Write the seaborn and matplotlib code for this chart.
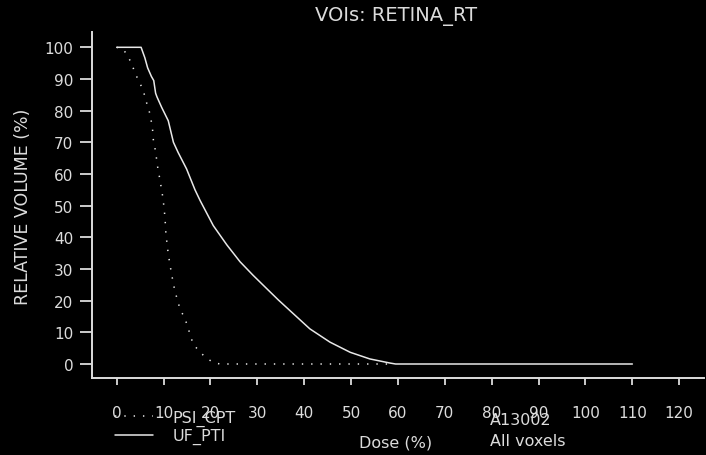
import numpy as np
import pandas as pd
import matplotlib
matplotlib.use("Agg")
import matplotlib.pyplot as plt
import seaborn as sns

# Dose-volume histogram for RETINA_RT, two plans
uf_dose = [0, 5.2, 6.0, 6.6, 7.4, 7.9, 8.3, 8.6, 9.6, 11.0, 12.1, 13.1, 14.9, 16.7,
           17.8, 20.6, 23.5, 26.3, 29.1, 32.0, 34.5, 37.0, 41.2, 45.5, 49.8, 54.0,
           58.3, 59.5, 110.0]
uf_volume = [100, 100, 96.7, 93.5, 90.8, 89.5, 85.5, 84.3, 81.0, 76.8, 70.0, 66.8, 61.6, 55.0,
             51.6, 43.7, 37.6, 32.3, 28.0, 23.8, 20.2, 16.8, 11.1, 6.9, 3.7, 1.6,
             0.3, 0.0, 0.0]

psi_dose = [0, 1.4, 2.3, 3.2, 3.9, 4.8, 5.7, 6.2, 6.9, 7.6, 7.8, 8.2, 8.5, 8.8, 9.2, 9.9,
            10.3, 10.5, 11.0, 11.7, 12.4, 13.5, 14.6, 15.3, 16.3, 17.8, 19.2, 20.6, 22.0, 58.0]
psi_volume = [100, 99.4, 97.3, 94.9, 91.8, 89.2, 86.2, 83.3, 80.1, 75.0, 71.0, 67.8, 64.8, 61.5,
              58.4, 52.1, 46.3, 41.0, 34.7, 28.4, 23.1, 17.4, 14.2, 11.0, 6.3, 3.7, 1.8, 0.5, 0.0, 0.0]

series_names = ["PSI_CPT", "UF_PTI"]
x_ticks = [0, 10, 20, 30, 40, 50, 60, 70, 80, 90, 100, 110, 120]
y_ticks = [0, 10, 20, 30, 40, 50, 60, 70, 80, 90, 100]

psi = pd.DataFrame({"dose": psi_dose, "volume": psi_volume})
uf = pd.DataFrame({"dose": uf_dose, "volume": uf_volume})

fg = "#dcdcdc"
line_c = "#e8e8e8"

sns.set_theme(style="ticks")
plt.rcParams["font.family"] = ["DejaVu Sans"]
plt.rcParams.update({
    "figure.facecolor": "black",
    "axes.facecolor": "black",
    "axes.edgecolor": fg,
    "text.color": fg,
    "xtick.color": fg,
    "ytick.color": fg,
})

fig = plt.figure(figsize=(7.06, 4.56), dpi=100)
ax = fig.add_axes([92 / 706, 1 - 379 / 456, (704 - 92) / 706, (379 - 33) / 456])

sns.lineplot(data=psi, x="dose", y="volume", ax=ax, color=line_c, lw=1.1,
             estimator=None, sort=False, linestyle=(0, (0.9, 5.2)))
sns.lineplot(data=uf, x="dose", y="volume", ax=ax, color=line_c, lw=1.1,
             estimator=None, sort=False)

ax.set_xlim(-5.27, 125.28)
ax.set_ylim(-4.42, 104.83)
ax.set_xticks(x_ticks)
ax.set_yticks(y_ticks)
ax.set_xticklabels([str(t) for t in x_ticks])
ax.set_yticklabels([str(t) for t in y_ticks])
ax.tick_params(axis="x", direction="out", length=5.2, width=1.3, pad=14.5, labelsize=11, colors=fg)
ax.tick_params(axis="y", direction="out", length=9, width=1.3, pad=4.5, labelsize=11, colors=fg)
sns.despine(ax=ax)
for side in ("left", "bottom"):
    ax.spines[side].set_linewidth(1.4)
    ax.spines[side].set_color(fg)

ax.set_xlabel("")
ax.set_ylabel("")
fig.text(23 / 706, 1 - 207 / 456, "RELATIVE VOLUME (%)", rotation=90,
         ha="center", va="center", fontsize=12.5, color=fg)
fig.text(396 / 706, 1 - 443 / 456, "Dose (%)", ha="center", va="center",
         fontsize=11.5, color=fg)
fig.text(396 / 706, 1 - 17 / 456, "VOIs: RETINA_RT", ha="center", va="center",
         fontsize=14, color=fg)
fig.text(490 / 706, 1 - 421 / 456, "A13002", ha="left", va="center",
         fontsize=11.5, color=fg)
fig.text(490 / 706, 1 - 442 / 456, "All voxels", ha="left", va="center",
         fontsize=11.5, color=fg)

handles = ax.get_lines()[:2]
leg = fig.legend(handles, series_names, loc="upper left",
                 bbox_to_anchor=(115 / 706, 1 - 411 / 456), frameon=False,
                 borderpad=0, borderaxespad=0, handlelength=2.4, handletextpad=1.2,
                 labelspacing=0.12, fontsize=11.5, labelcolor=fg)

fig.savefig("out.png", dpi=100, facecolor="black")
